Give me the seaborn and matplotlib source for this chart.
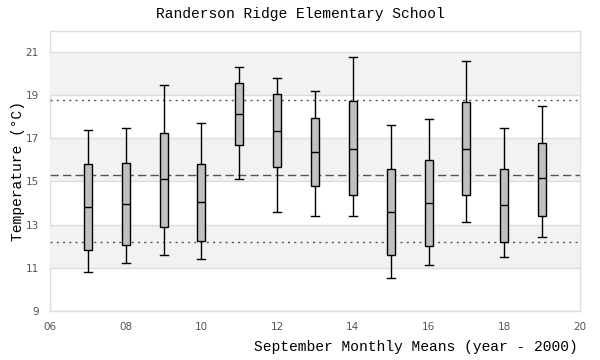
import matplotlib
matplotlib.use("Agg")
import matplotlib.pyplot as plt
import pandas as pd
import seaborn as sns

# september monthly means, one box per year (year - 2000)
years = [7, 8, 9, 10, 11, 12, 13, 14, 15, 16, 17, 18, 19]
lows = [10.8, 11.2, 11.6, 11.4, 15.1, 13.6, 13.4, 13.4, 10.5, 11.1, 13.1, 11.5, 12.4]
q1s = [11.8, 12.05, 12.9, 12.25, 16.7, 15.65, 14.8, 14.35, 11.6, 12.0, 14.35, 12.2, 13.4]
medians = [13.8, 13.95, 15.1, 14.05, 18.15, 17.35, 16.35, 16.5, 13.6, 14.0, 16.5, 13.9, 15.15]
q3s = [15.8, 15.85, 17.25, 15.8, 19.55, 19.05, 17.95, 18.75, 15.6, 16.0, 18.7, 15.6, 16.8]
highs = [17.4, 17.5, 19.5, 17.7, 20.3, 19.8, 19.2, 20.8, 17.6, 17.9, 20.6, 17.5, 18.5]

mean_line = 15.3
upper_line = 18.8
lower_line = 12.2

x_ticks = [6, 8, 10, 12, 14, 16, 18, 20]
y_ticks = [9, 11, 13, 15, 17, 19, 21]

# 5 values per year -> quartiles land exactly on the values, whiskers on min/max
rows = []
for i, yr in enumerate(years):
    for v in (lows[i], q1s[i], medians[i], q3s[i], highs[i]):
        rows.append({"year": yr, "temp": v})
df = pd.DataFrame(rows)

mono = "Liberation Mono"

fig = plt.figure(figsize=(6, 3.6), dpi=100)
ax = fig.add_axes([50 / 600, 1 - 310.7 / 360, 530 / 600, 280 / 360])

# alternating bands + light grid
for lo in (11, 15, 19):
    ax.axhspan(lo, lo + 2, color="#f2f2f2", zorder=0, lw=0)
for t in y_ticks:
    ax.axhline(t, color="#dddddd", lw=1, zorder=0.5)

ax.axhline(mean_line, color="#555555", lw=1, ls=(0, (6, 3)), zorder=1)
ax.axhline(upper_line, color="#555555", lw=1, ls=(0, (1.5, 3)), zorder=1)
ax.axhline(lower_line, color="#555555", lw=1, ls=(0, (1.5, 3)), zorder=1)

sns.boxplot(data=df, x="year", y="temp", native_scale=True, whis=(0, 100),
            width=0.21, color="#c0c0c0", linecolor="black", linewidth=1,
            saturation=1, showfliers=False, capwidths=0.21, ax=ax)
for art in ax.patches + ax.lines[-len(years) * 6:]:
    art.set_zorder(3)

ax.set_xlim(6, 20)
ax.set_ylim(9, 22)
ax.set_xticks(x_ticks)
ax.set_xticklabels([f"{t:02d}" for t in x_ticks])
ax.set_yticks(y_ticks)
ax.tick_params(length=0, labelsize=7.5, labelcolor="#555555", pad=8)

for s in ax.spines.values():
    s.set_color("#dddddd")
    s.set_linewidth(1)

ax.set_xlabel("")
ax.set_ylabel("")
fig.text(300 / 600, 1 - 14 / 360, "Randerson Ridge Elementary School",
         ha="center", va="center", family=mono, fontsize=10.5)
fig.text(578 / 600, 1 - 347 / 360, "September Monthly Means (year - 2000)",
         ha="right", va="center", family=mono, fontsize=10.5)
fig.text(18 / 600, 1 - 171 / 360, "Temperature (°C)", rotation=90,
         ha="center", va="center", family=mono, fontsize=10.5)

fig.savefig("out.png", dpi=100)
